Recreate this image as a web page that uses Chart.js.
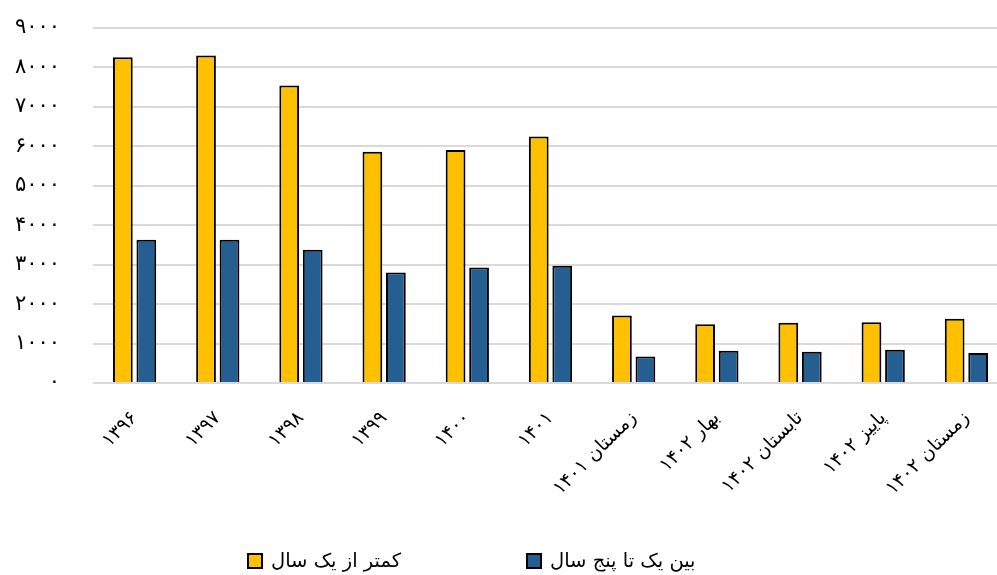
<!DOCTYPE html>
<html>
<head>
<meta charset="utf-8">
<script src="https://cdn.jsdelivr.net/npm/chart.js@4.4.1/dist/chart.umd.min.js"></script>
<style>
  html, body { margin: 0; padding: 0; background: #fff; overflow: hidden; width: 997px; height: 575px; }
  #wrap { position: absolute; left: 0; top: 0; width: 1010px; height: 575px; }
  #legend { position: absolute; top: 549px; left: 0; width: 997px; height: 26px; font-family: 'DejaVu Sans', sans-serif; font-size: 19.5px; color: #000; }
  .item { position: absolute; top: 0; display: flex; align-items: center; white-space: nowrap; }
  .box { width: 12px; height: 12px; border: 2px solid #000; margin-right: 8px; }
</style>
</head>
<body>
<div id="wrap"><canvas id="c"></canvas></div>
<div id="legend"></div>
<script>
const categories = ['۱۳۹۶', '۱۳۹۷', '۱۳۹۸', '۱۳۹۹', '۱۴۰۰', '۱۴۰۱', 'زمستان ۱۴۰۱', 'بهار ۱۴۰۲', 'تابستان ۱۴۰۲', 'پاییز ۱۴۰۲', 'زمستان ۱۴۰۲'];
const lessThanOneYear = [8260, 8300, 7540, 5860, 5910, 6250, 1710, 1490, 1530, 1540, 1630];
const oneToFiveYears = [3630, 3630, 3380, 2800, 2930, 2970, 670, 820, 790, 840, 760];
const seriesNames = ['کمتر از یک سال', 'بین یک تا پنج سال'];
const seriesColors = ['#FFC000', '#255E91'];
const persianDigits = ['۰', '۱', '۲', '۳', '۴', '۵', '۶', '۷', '۸', '۹'];

function toPersian(n) {
  return String(n).replace(/\d/g, d => persianDigits[+d]);
}

const FONT = "'DejaVu Sans', sans-serif";

const chart = new Chart(document.getElementById('c'), {
  type: 'bar',
  data: {
    labels: categories,
    datasets: [
      { label: seriesNames[0], data: lessThanOneYear, backgroundColor: seriesColors[0], borderColor: '#000', borderWidth: 2 },
      { label: seriesNames[1], data: oneToFiveYears, backgroundColor: seriesColors[1], borderColor: '#000', borderWidth: 2 }
    ]
  },
  options: {
    responsive: true,
    maintainAspectRatio: false,
    animation: false,
    datasets: { bar: { categoryPercentage: 0.565, barPercentage: 0.84 } },
    layout: { padding: { top: 28, right: 2, left: 0, bottom: 0 } },
    plugins: { legend: { display: false }, tooltip: { enabled: false } },
    scales: {
      x: {
        grid: { display: false },
        border: { display: false },
        ticks: { color: '#000', font: { family: FONT, size: 19 }, minRotation: 45, maxRotation: 45, padding: 16, autoSkip: false },
        afterFit: s => { s.height = 192; }
      },
      y: {
        min: 0, max: 9000,
        grid: { color: '#d9d9d9', lineWidth: 2, drawTicks: true, tickLength: 33, tickColor: 'rgba(0,0,0,0)' },
        border: { display: false },
        ticks: { stepSize: 1000, color: '#000', font: { family: FONT, size: 21 }, padding: 0, callback: v => toPersian(v) },
        afterFit: s => { s.width = 93; }
      }
    }
  }
});

const legendEl = document.getElementById('legend');
const legendLefts = [247, 526];
chart.data.datasets.forEach((ds, i) => {
  const item = document.createElement('div');
  item.className = 'item';
  item.style.left = legendLefts[i] + 'px';
  const box = document.createElement('span');
  box.className = 'box';
  box.style.background = ds.backgroundColor;
  const txt = document.createElement('span');
  txt.textContent = ds.label;
  item.appendChild(box);
  item.appendChild(txt);
  legendEl.appendChild(item);
});
</script>
</body>
</html>
